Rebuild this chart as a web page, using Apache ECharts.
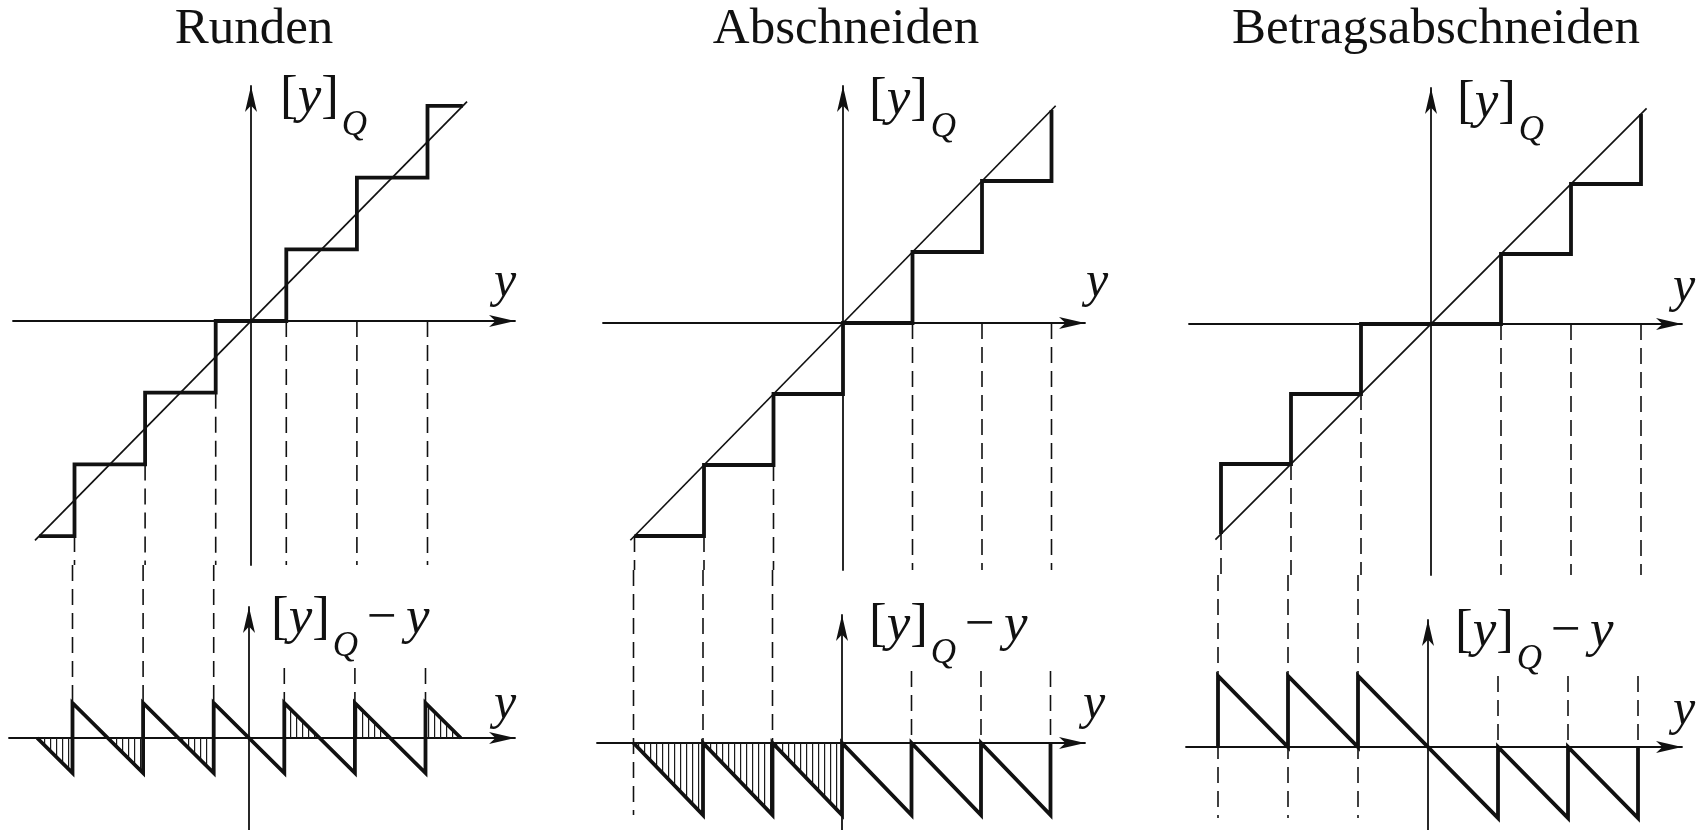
<!DOCTYPE html>
<html>
<head>
<meta charset="utf-8">
<title>Quantisierung</title>
<style>
  html, body { margin: 0; padding: 0; background: #ffffff; }
  #chart { width: 1703px; height: 830px; }
</style>
<script src="https://cdn.jsdelivr.net/npm/echarts@6/dist/echarts.min.js"></script>
</head>
<body>
<div id="chart"></div>
<script>
// Kennlinien der Quantisierung: Runden, Abschneiden, Betragsabschneiden
const titles = ['Runden', 'Abschneiden', 'Betragsabschneiden'];

// Treppenkurven [y]_Q über y
const rundenStair = [[-3,-3],[-2.5,-3],[-2.5,-2],[-1.5,-2],[-1.5,-1],[-0.5,-1],[-0.5,0],[0.5,0],[0.5,1],[1.5,1],[1.5,2],[2.5,2],[2.5,3],[3,3]];
const abschneidenStair = [[-3,-3],[-2,-3],[-2,-2],[-1,-2],[-1,-1],[0,-1],[0,0],[1,0],[1,1],[2,1],[2,2],[3,2],[3,3]];
const betragStair = [[-3,-3],[-3,-2],[-2,-2],[-2,-1],[-1,-1],[-1,0],[1,0],[1,1],[2,1],[2,2],[3,2],[3,3]];

// Winkelhalbierende [y]_Q = y
const rundenDiag = [[-3.06,-3.06],[3.06,3.06]];
const abschneidenDiag = [[-3.06,-3.06],[3.06,3.06]];
const betragDiag = [[-3.08,-3.08],[3.08,3.08]];

// Quantisierungsfehler [y]_Q - y
const rundenError = [[-3,0],[-2.5,-0.5],[-2.5,0.5],[-1.5,-0.5],[-1.5,0.5],[-0.5,-0.5],[-0.5,0.5],[0.5,-0.5],[0.5,0.5],[1.5,-0.5],[1.5,0.5],[2.5,-0.5],[2.5,0.5],[3,0]];
const abschneidenError = [[-3,0],[-2,-1],[-2,0],[-1,-1],[-1,0],[0,-1],[0,0],[1,-1],[1,0],[2,-1],[2,0],[3,-1],[3,0]];
const betragError = [[-3,0],[-3,1],[-2,0],[-2,1],[-1,0],[-1,1],[1,-1],[1,0],[2,-1],[2,0],[3,-1],[3,0]];

// schraffierte Fehlerdreiecke (Betrag wird vergroessert)
const rundenHatch = [[[-3,0],[-2.5,-0.5]],[[-2,0],[-1.5,-0.5]],[[-1,0],[-0.5,-0.5]],[[0.5,0.5],[1,0]],[[1.5,0.5],[2,0]],[[2.5,0.5],[3,0]]];
const abschneidenHatch = [[[-3,0],[-2,-1]],[[-2,0],[-1,-1]],[[-1,0],[0,-1]]];
const betragHatch = [];

// Hilfslinien links: [y, Startwert oben, Endwert unten]
const rundenGuidesNeg = [[-2.5,-3,0.5],[-1.5,-2,0.5],[-0.5,-1,0.5]];
const abschneidenGuidesNeg = [[-3,-3,-1],[-2,-3,-1],[-1,-2,-1]];
const betragGuidesNeg = [[-3,-3,-1],[-2,-2,-1],[-1,-1,-1]];
// Hilfslinien rechts: [y, Startwert unten, Endwert unten]
const rundenGuidesPos = [[0.5,1,0.5],[1.5,1,0.5],[2.5,1,0.5]];
const abschneidenGuidesPos = [[1,1,0],[2,1,0],[3,1,0]];
const betragGuidesPos = [[1,1,0],[2,1,0],[3,1,0]];

const panels = [
  { stair: rundenStair, diag: rundenDiag, error: rundenError, hatch: rundenHatch, neg: rundenGuidesNeg, pos: rundenGuidesPos },
  { stair: abschneidenStair, diag: abschneidenDiag, error: abschneidenError, hatch: abschneidenHatch, neg: abschneidenGuidesNeg, pos: abschneidenGuidesPos },
  { stair: betragStair, diag: betragDiag, error: betragError, hatch: betragHatch, neg: betragGuidesNeg, pos: betragGuidesPos }
];

// Lage der Koordinatensysteme (Pixel): Ursprung, Einheit, Achsenenden
const layout = [
  { up: { ox: 251, oy: 321, ux: 70.6, uy: 71.7, left: 13, right: 515, top: 86, bottom: 565 },
    lo: { ox: 249, oy: 738, ux: 70.6, uy: 70, left: 9, right: 515, top: 607, bottom: 830 },
    title: 254, lblUp: [280, 116], lblLo: [271, 637], yUp: [494, 300], yLo: [494, 722] },
  { up: { ox: 843, oy: 323, ux: 69.5, uy: 71, left: 603, right: 1085, top: 86, bottom: 570 },
    lo: { ox: 842, oy: 743, ux: 69.5, uy: 72, left: 597, right: 1085, top: 615, bottom: 830 },
    title: 846, lblUp: [869, 118], lblLo: [869, 644], yUp: [1086, 300], yLo: [1083, 722] },
  { up: { ox: 1431, oy: 324, ux: 70, uy: 70, left: 1189, right: 1682, top: 88, bottom: 575 },
    lo: { ox: 1428, oy: 747, ux: 70, uy: 71, left: 1186, right: 1682, top: 620, bottom: 830 },
    title: 1436, lblUp: [1457, 121], lblLo: [1455, 650], yUp: [1673, 305], yLo: [1673, 728] }
];

const INK = '#111111';
const SERIF = '"Liberation Serif", "Times New Roman", serif';

function range(g) {
  return {
    xMin: (g.left - g.ox) / g.ux, xMax: (g.right - g.ox) / g.ux,
    yMin: (g.oy - g.bottom) / g.uy, yMax: (g.oy - g.top) / g.uy
  };
}

function hatchPattern() {
  const c = document.createElement('canvas');
  c.width = 6; c.height = 6;
  const g = c.getContext('2d');
  g.fillStyle = '#1a1a1a';
  g.fillRect(2, 0, 1.2, 6);
  return c;
}
const hatch = hatchPattern();

const axisLine = {
  onZero: true,
  symbol: ['none', 'arrow'],
  symbolSize: [9, 26],
  lineStyle: { color: INK, width: 1.8 }
};

function axis(gi, min, max) {
  return {
    gridIndex: gi, type: 'value', min, max,
    axisLine, axisTick: { show: false }, axisLabel: { show: false }, splitLine: { show: false }
  };
}

function line(gi, data, width, extra) {
  return Object.assign({
    type: 'line', xAxisIndex: gi, yAxisIndex: gi, data,
    symbol: 'none', showSymbol: false, silent: true, animation: false,
    lineStyle: { color: INK, width, cap: 'butt', join: 'miter' }, z: 3
  }, extra || {});
}

function dashed(gi, data) {
  return line(gi, data, 1.6, {
    clip: false, z: 2,
    lineStyle: { color: INK, width: 1.6, type: [16, 8], cap: 'butt' }
  });
}

const measureCtx = document.createElement('canvas').getContext('2d');
function formula(x0, base, parts) {
  const out = [];
  let x = x0;
  for (const p of parts) {
    const font = (p.it ? 'italic ' : '') + p.size + 'px ' + SERIF;
    measureCtx.font = font;
    x += p.pre || 0;
    out.push({
      type: 'text', x, y: base + (p.dy || 0) - 0.34 * p.size, silent: true, z: 10,
      style: { text: p.t, font, fill: INK, align: 'left', verticalAlign: 'middle' }
    });
    x += measureCtx.measureText(p.t).width;
  }
  return out;
}

const grid = [], xAxis = [], yAxis = [], series = [], graphic = [];

panels.forEach((p, i) => {
  const L = layout[i];
  const gu = 2 * i, gl = 2 * i + 1;
  const ru = range(L.up), rl = range(L.lo);
  [[L.up, ru], [L.lo, rl]].forEach(([g, r], k) => {
    grid.push({ left: g.left, top: g.top, width: g.right - g.left, height: g.bottom - g.top, containLabel: false });
    xAxis.push(axis(2 * i + k, r.xMin, r.xMax));
    yAxis.push(axis(2 * i + k, r.yMin, r.yMax));
  });

  // oberes Diagramm
  series.push(line(gu, p.diag, 1.7));
  series.push(line(gu, p.stair, 3.8, { z: 4 }));

  // Hilfslinien zwischen beiden Diagrammen
  const loAtUpBottom = (L.lo.oy - L.up.bottom) / L.lo.uy;
  p.neg.forEach(([x, top, end]) => {
    series.push(dashed(gu, [[x, top], [x, ru.yMin]]));
    series.push(dashed(gl, [[x, loAtUpBottom], [x, end]]));
  });
  p.pos.forEach(([x, start, end]) => {
    series.push(dashed(gu, [[x, 0], [x, ru.yMin]]));
    series.push(dashed(gl, [[x, start], [x, end]]));
  });

  // unteres Diagramm
  p.hatch.forEach(tri => {
    series.push(line(gl, tri, 0, {
      z: 1,
      lineStyle: { width: 0, color: 'transparent' },
      areaStyle: { color: { image: hatch, repeat: 'repeat' }, opacity: 1, origin: 'auto' }
    }));
  });
  series.push(line(gl, p.error, 3.8, { z: 4 }));

  // Beschriftung
  graphic.push({
    type: 'text', x: L.title, y: 47 - 0.34 * 51, silent: true,
    style: { text: titles[i], font: '51px ' + SERIF, fill: INK, align: 'center', verticalAlign: 'middle' }
  });
  graphic.push(...formula(L.lblUp[0], L.lblUp[1], [
    { t: '[', size: 53 }, { t: 'y', it: true, size: 53 }, { t: ']', size: 53 },
    { t: 'Q', it: true, size: 35, dy: 22, pre: 3 }
  ]));
  graphic.push(...formula(L.lblLo[0], L.lblLo[1], [
    { t: '[', size: 53 }, { t: 'y', it: true, size: 53 }, { t: ']', size: 53 },
    { t: 'Q', it: true, size: 35, dy: 22, pre: 3 },
    { t: '\u2212', size: 53, pre: 9 }, { t: 'y', it: true, size: 53, pre: 9 }
  ]));
  graphic.push(...formula(L.yUp[0], L.yUp[1], [{ t: 'y', it: true, size: 50 }]));
  graphic.push(...formula(L.yLo[0], L.yLo[1], [{ t: 'y', it: true, size: 50 }]));
});

const chart = echarts.init(document.getElementById('chart'), null, { renderer: 'canvas' });
chart.setOption({
  backgroundColor: '#ffffff',
  animation: false,
  grid, xAxis, yAxis, series, graphic
});
</script>
</body>
</html>
